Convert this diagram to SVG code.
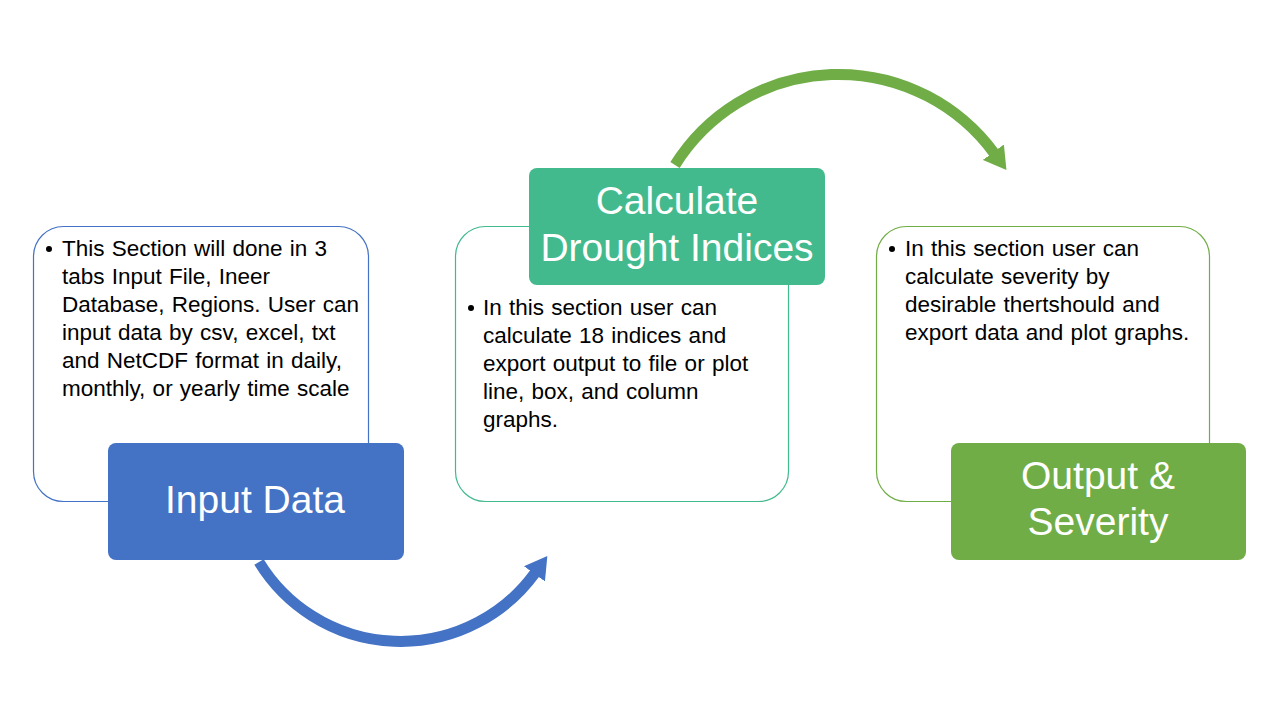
<svg xmlns="http://www.w3.org/2000/svg" width="1280" height="720" viewBox="0 0 1280 720">
<defs>
<style>
.body{font-family:"Liberation Sans",Arial,sans-serif;font-size:22.5px;word-spacing:1px;fill:#000}
.head{font-family:"Liberation Sans",Arial,sans-serif;font-size:39px;fill:#fff;text-anchor:middle}
.outline{fill:#fff;stroke-width:1.2}
</style>
<marker id="ahBlue" markerUnits="userSpaceOnUse" markerWidth="22" markerHeight="26" viewBox="0 0 22 26" refX="1" refY="13" orient="auto">
<path d="M0,0 L22,13 L0,26 z" fill="#4472C4"/>
</marker>
<marker id="ahGreen" markerUnits="userSpaceOnUse" markerWidth="22" markerHeight="26" viewBox="0 0 22 26" refX="1" refY="13" orient="auto">
<path d="M0,0 L22,13 L0,26 z" fill="#70AD47"/>
</marker>
</defs>
<rect width="1280" height="720" fill="#fff"/>
<g id="connectors" fill="none" stroke-width="11">
<path d="M259,562 A166,166 0 0 0 535,573" stroke="#4472C4" marker-end="url(#ahBlue)"/>
<path d="M675,165 A193,193 0 0 1 994,153" stroke="#70AD47" marker-end="url(#ahGreen)"/>
</g>
<g id="node-input">
<rect class="outline" x="33.5" y="226.5" width="335" height="275" rx="30" stroke="#4472C4"/>
<circle cx="49" cy="249" r="3" fill="#000"/>
<text class="body"><tspan x="62" y="256">This Section will done in 3</tspan><tspan x="62" y="284">tabs Input File, Ineer</tspan><tspan x="62" y="312">Database, Regions. User can</tspan><tspan x="62" y="340">input data by csv, excel, txt</tspan><tspan x="62" y="368">and NetCDF format in daily,</tspan><tspan x="62" y="396">monthly, or yearly time scale</tspan></text>
<rect x="108" y="443" width="296" height="117" rx="8" fill="#4472C4"/>
<text class="head" x="255" y="513">Input Data</text>
</g>
<g id="node-calc">
<rect class="outline" x="455.5" y="226.5" width="333" height="275" rx="30" stroke="#43BA8D"/>
<circle cx="471" cy="308" r="3" fill="#000"/>
<text class="body"><tspan x="483" y="315">In this section user can</tspan><tspan x="483" y="343">calculate 18 indices and</tspan><tspan x="483" y="371">export output to file or plot</tspan><tspan x="483" y="399">line, box, and column</tspan><tspan x="483" y="427">graphs.</tspan></text>
<rect x="529" y="168" width="296" height="117" rx="8" fill="#43BA8D"/>
<text class="head" x="677" y="214">Calculate</text>
<text class="head" x="677" y="261">Drought Indices</text>
</g>
<g id="node-output">
<rect class="outline" x="876.5" y="226.5" width="333" height="275" rx="30" stroke="#70AD47"/>
<circle cx="892" cy="249" r="3" fill="#000"/>
<text class="body"><tspan x="905" y="256">In this section user can</tspan><tspan x="905" y="284">calculate severity by</tspan><tspan x="905" y="312">desirable thertshould and</tspan><tspan x="905" y="340">export data and plot graphs.</tspan></text>
<rect x="951" y="443" width="295" height="117" rx="8" fill="#70AD47"/>
<text class="head" x="1098" y="489">Output &amp;</text>
<text class="head" x="1098" y="535">Severity</text>
</g>
</svg>
